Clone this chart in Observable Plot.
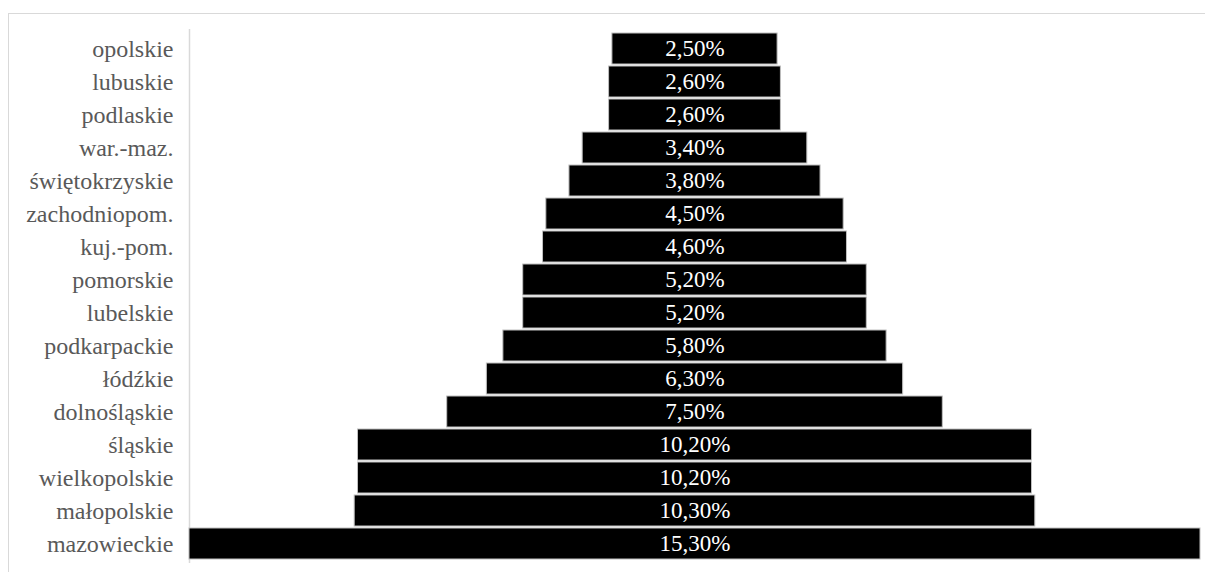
<!DOCTYPE html>
<html>
<head>
<meta charset="utf-8">
<script src="https://cdn.jsdelivr.net/npm/d3@7"></script>
<script src="https://cdn.jsdelivr.net/npm/@observablehq/plot@0.6"></script>
</head>
<body style="margin:0">
<div id="chart"></div>
<div style="position:absolute;left:8px;top:13px;width:1197px;height:559px;box-sizing:border-box;border-top:1px solid #d9d9d9;border-left:1px solid #d9d9d9;pointer-events:none"></div>
<script>
const regions = ["opolskie","lubuskie","podlaskie","war.-maz.","świętokrzyskie","zachodniopom.","kuj.-pom.","pomorskie","lubelskie","podkarpackie","łódźkie","dolnośląskie","śląskie","wielkopolskie","małopolskie","mazowieckie"];
const shares = [2.5,2.6,2.6,3.4,3.8,4.5,4.6,5.2,5.2,5.8,6.3,7.5,10.2,10.2,10.3,15.3];

const data = regions.map((r, i) => ({region: r, value: shares[i]}));
const maxV = d3.max(shares);
const fmt = v => v.toFixed(2).replace(".", ",") + "%";

const chart = Plot.plot({
  width: 1205,
  height: 572,
  marginLeft: 189,
  marginRight: 5,
  marginTop: 29,
  marginBottom: 9,
  style: { fontFamily: "Liberation Serif" },
  x: { domain: [-maxV / 2, maxV / 2], axis: null },
  y: { domain: regions, padding: 0.055, label: null, axis: null },
  marks: [
    Plot.ruleX([-maxV / 2], { stroke: "#d9d9d9", strokeWidth: 1.5 }),
    Plot.barX(data, { y: "region", x1: d => -d.value / 2, x2: d => d.value / 2, fill: "#000", stroke: "#bfbfbf", strokeWidth: 1 }),
    Plot.text(data, { y: "region", x: -maxV / 2, dx: -16, textAnchor: "end", text: "region", fill: "#595959", fontSize: 24, fontFamily: "Liberation Serif" }),
    Plot.text(data, { y: "region", x: 0, text: d => fmt(d.value), fill: "#fff", fontSize: 23, fontFamily: "Liberation Serif" })
  ]
});
document.getElementById("chart").appendChild(chart);
</script>
</body>
</html>
